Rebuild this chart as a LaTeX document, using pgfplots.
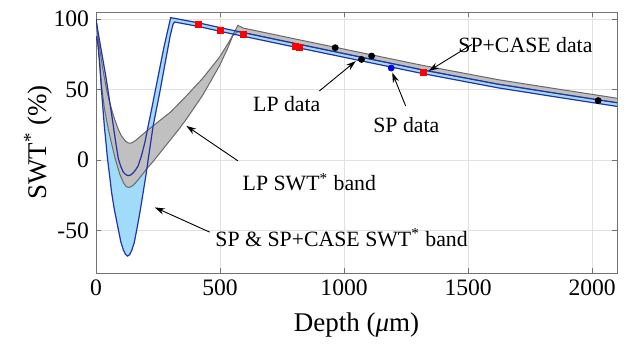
\documentclass[border=0pt]{standalone}
\usepackage{fontspec}
\setmainfont{Liberation Serif}
\usepackage{pgfplots}
\pgfplotsset{compat=1.18}
\usepgfplotslibrary{fillbetween}
\usetikzlibrary{arrows.meta,calc}

\definecolor{bandblue}{RGB}{160,220,250}
\definecolor{edgeblue}{RGB}{35,50,165}
\definecolor{bandgray}{RGB}{192,192,192}
\definecolor{edgegray}{RGB}{105,105,105}
\definecolor{gridgray}{RGB}{225,225,225}

% SP & SP+CASE band: upper and lower limits
\pgfplotstableread{
x y
0 100
10 89
20 79
30 69
40 59
49.5 48
60 36
70 24
80 12
90 1
100 -4.5
110 -8.5
120 -10.3
130 -11
140 -10.5
150 -9
160 -6.8
170 -4
183 3
197 12.5
210 24
224 36
250 59
275 81
301 101
414 97.3
501 93.9
594 90.4
800 82.8
1000 75.5
1318 63.9
1622 53.8
1850 47.5
2100 40.7
}\bandBu
\pgfplotstableread{
x y
0 88
7 83
13.4 71.4
22.8 48
33.5 24.3
46.9 0.2
54.9 -11.1
62.9 -22.9
73.6 -34.7
87 -46.5
100.4 -58.2
110 -63.5
118 -66.5
127 -68
136 -67
145 -63.5
154 -58.6
167 -46.8
179 -35
190 -23
201 -11
210 0
230 24
257 48
281 71
300 89
311 96.5
317 97.9
414 94.7
501 91.3
594 87.8
800 80.2
1000 72.9
1318 61.3
1622 51.2
1850 44.9
2100 38.1
}\bandBl
% LP band: upper and lower limits
\pgfplotstableread{
x y
0 100
10 85
20 73
30 62
42.8 50
52 43
62.9 36
75 29
89.7 22
100 18
110 15.5
120 13.3
130 12.2
137 12
145 12.3
160 14
180 17
200 20
230 24.3
300 34
364 45.5
430 58
498 73
540 85
572 95.5
594 93.6
800 86
1000 78.7
1318 67.1
1622 57
1850 50.7
2100 43.9
}\bandGu
\pgfplotstableread{
x y
0 100
6 87
12 75
22.8 52
33.5 37
49.5 22
65 10
79 0
96 -10
112 -16.5
122 -18.7
130 -19.3
140 -19
150 -17.8
165 -15
183 -11
205 -6
230 -1
280 10
330 21
364 29
430 46
498 67
530 79
551 88
570 91
594 90.4
800 82.8
1000 75.5
1318 63.9
1622 53.8
1850 47.5
2100 40.7
}\bandGl

\begin{document}
\begin{tikzpicture}
\begin{axis}[
  scale only axis,
  width=260.5pt, height=130.5pt,
  xmin=0, xmax=2100, ymin=-80, ymax=105,
  xtick={0,500,1000,1500,2000},
  ytick={-50,0,50,100},
  grid=major,
  grid style={gridgray, line width=0.4pt},
  axis line style={black!55, line width=0.5pt},
  tick style={black!55, line width=0.4pt},
  tick align=inside,
  major tick length=2.5pt,
  /pgf/number format/assume math mode=true,
  /pgf/number format/1000 sep={},
  ticklabel style={font=\fontsize{11.8}{12}\selectfont},
  xlabel={Depth (\textit{μ}m)},
  ylabel={SWT\textsuperscript{*} (\%)},
  label style={font=\fontsize{13.5}{15}\selectfont},
  xlabel style={at={(axis description cs:0.5,-0.2)}, anchor=center},
  ylabel style={at={(axis description cs:-0.111,0.5)}, anchor=center},
  scaled ticks=false,
  clip=true,
]
\addplot[draw=none, name path=bu] table {\bandBu};
\addplot[draw=none, name path=bl] table {\bandBl};
\addplot[draw=none, name path=gu] table {\bandGu};
\addplot[draw=none, name path=gl] table {\bandGl};

\addplot[fill=bandblue, draw=none] fill between[of=bu and bl];
\addplot[fill=bandgray, draw=none] fill between[of=gu and gl];

\addplot[edgegray, line width=0.5pt] table {\bandGu};
\addplot[edgegray, line width=0.5pt] table {\bandGl};
\addplot[edgeblue, line width=0.6pt] table {\bandBu};
\addplot[edgeblue, line width=0.6pt] table {\bandBl};

% SP+CASE data
\addplot[only marks, mark=square*, mark size=1.5pt, red, mark options={fill=red}]
  coordinates {(414,96.2) (501,92.2) (594,88.9) (803,80.6) (819,80.2) (1318,62.5)};
% LP data
\addplot[only marks, mark=*, mark size=1.5pt, black]
  coordinates {(964,79.7) (1070,71.4) (1111,73.8) (2024,42.2)};
% SP data
\addplot[only marks, mark=*, mark size=1.5pt, blue!85!black, mark options={fill=blue}]
  coordinates {(1190,65.3)};

% annotations
\begin{scope}[font=\fontsize{10.9}{12}\selectfont]
\node at (axis cs:1731,81.3) {SP+CASE data};
\node at (axis cs:769,39.6) {LP data};
\node at (axis cs:1251,24.8) {SP data};
\node at (axis cs:860,-15.6) {LP SWT\textsuperscript{*} band};
\node at (axis cs:990,-54.7) {SP \& SP+CASE SWT\textsuperscript{*} band};
\end{scope}
\begin{scope}[line width=0.45pt, -{Stealth[length=5pt,width=3.2pt]}]
\draw (axis cs:1515,82) -- (axis cs:1341,63.2);
\draw (axis cs:900,49) -- (axis cs:1047,70.2);
\draw (axis cs:1248,38.4) -- (axis cs:1194,62);
\draw (axis cs:572,-0.5) -- (axis cs:364,24.3);
\draw (axis cs:458,-51) -- (axis cs:237,-33.5);
\end{scope}
\end{axis}
\pgfresetboundingbox
\path[use as bounding box] ($(current axis.south west)+(-48pt,-35.5pt)$) rectangle ($(current axis.north east)+(6.5pt,6pt)$);
\end{tikzpicture}
\end{document}
